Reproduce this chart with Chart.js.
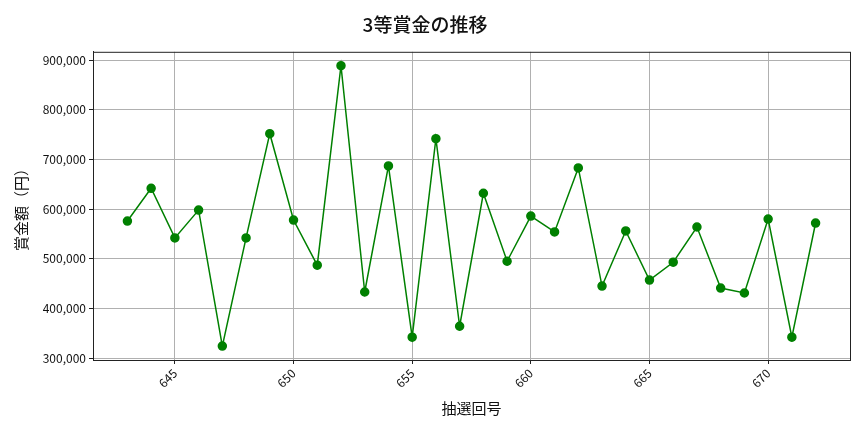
<!DOCTYPE html>
<html>
<head>
<meta charset="utf-8">
<script src="https://cdn.jsdelivr.net/npm/chart.js@4.4.0/dist/chart.umd.min.js"></script>
<style>
  html, body { margin: 0; padding: 0; background: #fff; }
  #wrap { width: 864px; height: 432px; }
</style>
</head>
<body>
<div id="wrap"><canvas id="prizeChart" width="864" height="432"></canvas></div>
<script>
// 抽選回号 and 3等賞金 (円)
const drawNumbers = [643, 644, 645, 646, 647, 648, 649, 650, 651, 652,
                     653, 654, 655, 656, 657, 658, 659, 660, 661, 662,
                     663, 664, 665, 666, 667, 668, 669, 670, 671, 672];
const prizes = [576000, 642000, 542000, 598000, 324000, 542000, 752000, 578000, 487000, 889000,
                433000, 687000, 342000, 742000, 364000, 632000, 495000, 586000, 554000, 683000,
                445000, 556000, 457000, 493000, 564000, 441000, 431000, 580000, 342000, 572000];
const xTicks = [645, 650, 655, 660, 665, 670];
const yTicks = [300000, 400000, 500000, 600000, 700000, 800000, 900000];

const FONT = "'Noto Sans CJK JP', 'Noto Sans', sans-serif";

const points = drawNumbers.map((n, i) => ({ x: n, y: prizes[i] }));

// matplotlib style frame round the plot area
const frame = {
    id: 'frame',
    afterDraw(chart) {
        const { ctx, chartArea: a } = chart;
        ctx.save();
        ctx.strokeStyle = '#222';
        ctx.lineWidth = 1;
        ctx.strokeRect(a.left + 0.5, a.top + 0.5, a.right - a.left, a.bottom - a.top);
        ctx.restore();
    }
};

new Chart(document.getElementById('prizeChart').getContext('2d'), {
    type: 'line',
    data: {
        datasets: [{
            label: '3等賞金',
            data: points,
            borderColor: '#008000',
            backgroundColor: '#008000',
            borderWidth: 1.5,
            pointRadius: 4,
            pointHoverRadius: 4,
            tension: 0
        }]
    },
    options: {
        responsive: false,
        animation: false,
        devicePixelRatio: 1,
        layout: {
            padding: { top: 0, right: 14, bottom: 13, left: 0 }
        },
        plugins: {
            legend: { display: false },
            tooltip: { enabled: false },
            title: {
                display: true,
                text: '3等賞金の推移',
                color: '#111',
                font: { family: FONT, size: 19, weight: '500' },
                padding: { top: 13, bottom: 16 }
            }
        },
        scales: {
            x: {
                type: 'linear',
                min: 641.55,
                max: 673.45,
                afterBuildTicks: s => { s.ticks = xTicks.map(v => ({ value: v })); },
                afterFit: s => { s.height = 59; },
                ticks: {
                    color: '#111',
                    font: { family: FONT, size: 12 },
                    maxRotation: 45,
                    minRotation: 45,
                    padding: 2
                },
                grid: { color: '#b0b0b0', tickColor: '#222', tickLength: 4 },
                border: { color: '#222' },
                title: {
                    display: true,
                    text: '抽選回号',
                    color: '#111',
                    font: { family: FONT, size: 15 },
                    padding: { top: 0, bottom: 2 }
                }
            },
            y: {
                min: 296000,
                max: 917000,
                afterBuildTicks: s => { s.ticks = yTicks.map(v => ({ value: v })); },
                afterFit: s => { s.width = 93; },
                ticks: {
                    color: '#111',
                    font: { family: FONT, size: 12 },
                    padding: 3,
                    callback: v => v.toLocaleString('en-US')
                },
                grid: { color: '#b0b0b0', tickColor: '#222', tickLength: 4 },
                border: { color: '#222' },
                title: {
                    display: true,
                    text: '賞金額（円）',
                    color: '#111',
                    font: { family: FONT, size: 15 },
                    padding: { top: 12, bottom: 6 }
                }
            }
        }
    },
    plugins: [frame]
});
</script>
</body>
</html>
